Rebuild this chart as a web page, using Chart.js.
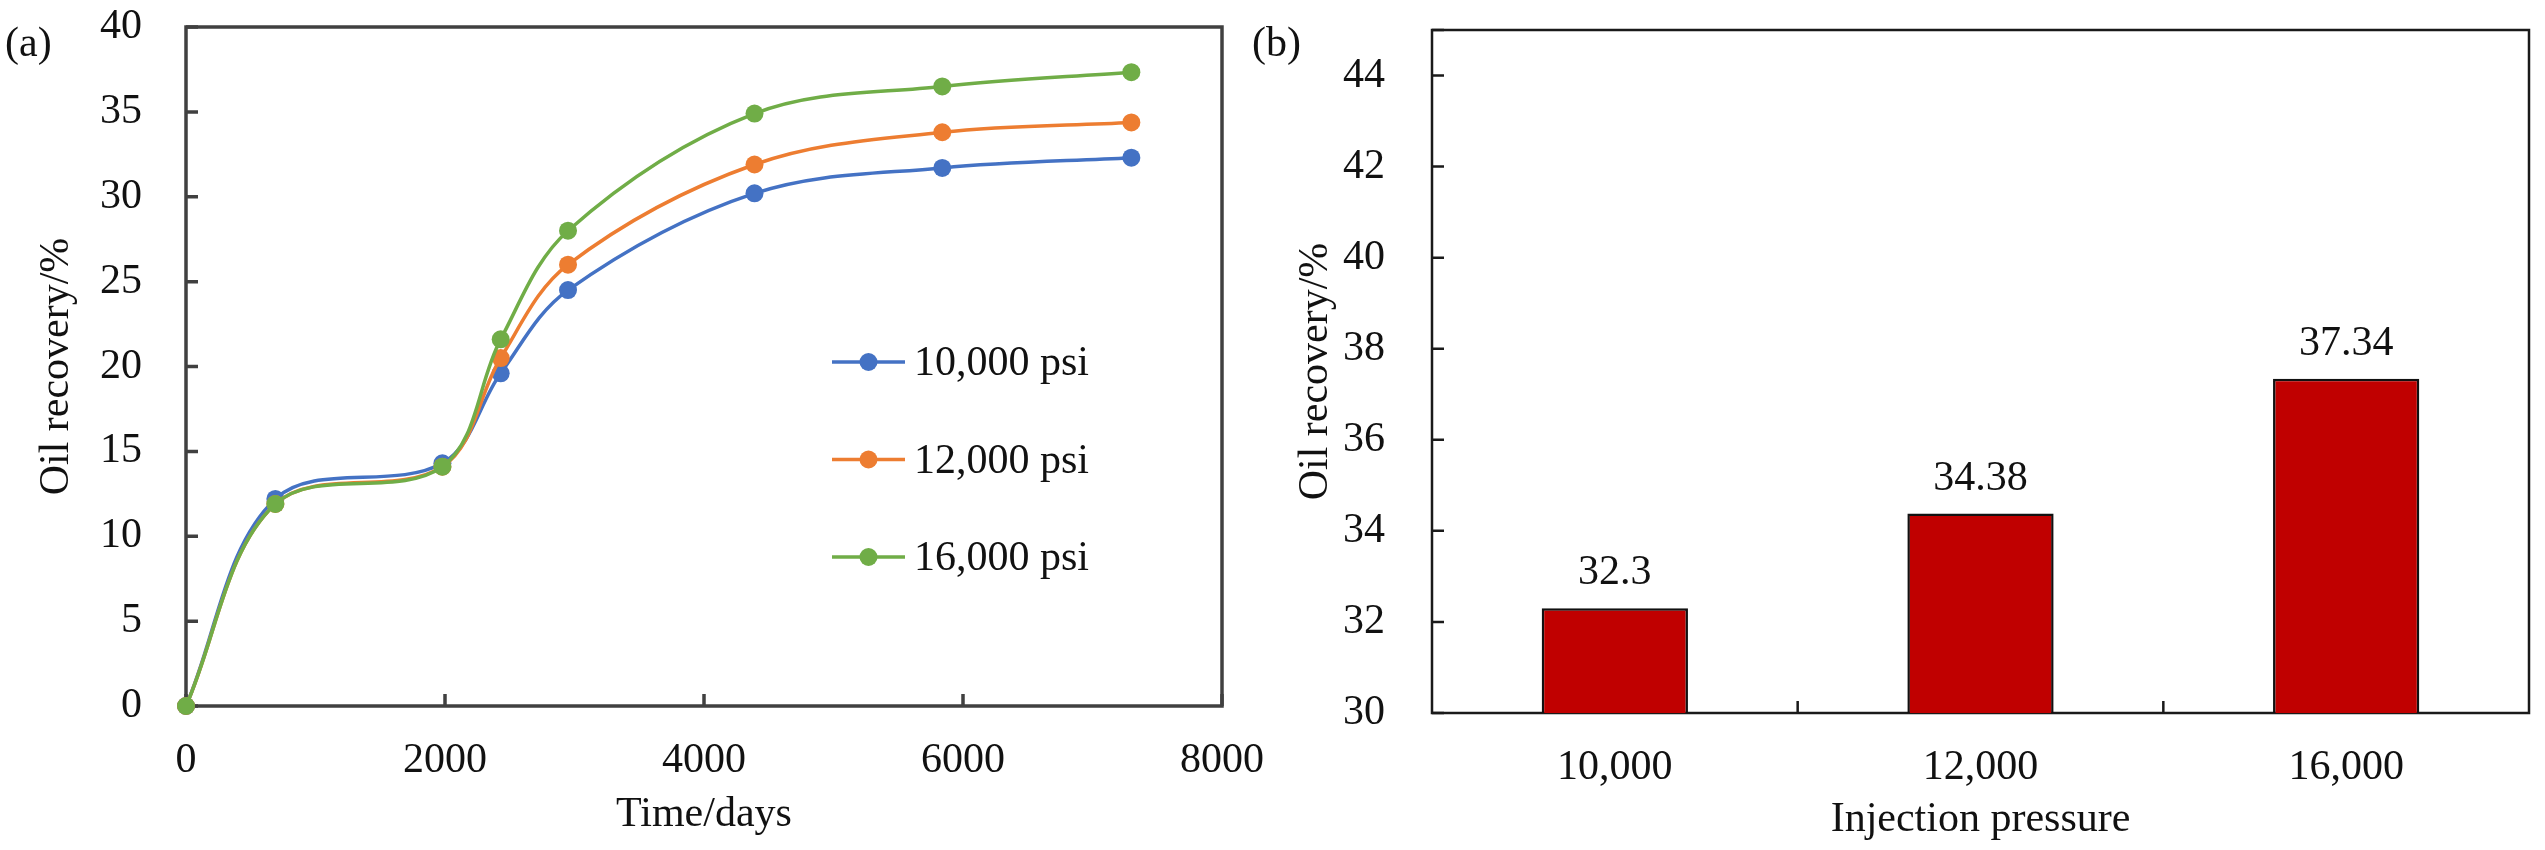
<!DOCTYPE html>
<html><head><meta charset="utf-8">
<script src="https://cdn.jsdelivr.net/npm/chart.js@4.4.1/dist/chart.umd.min.js"></script>
<style>
html,body{margin:0;padding:0;background:#fff;}
body{width:2545px;height:850px;position:relative;overflow:hidden;}
.box{position:absolute;top:0;height:850px;}
.panel{position:absolute;font-family:"Liberation Serif",serif;font-size:42px;line-height:42px;color:#111;}
</style></head><body>
<div class="box" style="left:1250px;width:1295px"><canvas id="c2"></canvas></div>
<div class="box" style="left:0;width:1300px"><canvas id="c1"></canvas></div>
<div class="panel" style="left:5px;top:21px">(a)</div>
<div class="panel" style="left:1252px;top:21px">(b)</div>
<script>
// ---- data ----
const timeDays = [0, 690, 1980, 2430, 2950, 4390, 5840, 7300];
const rec10000 = [0, 12.2, 14.3, 19.6, 24.5, 30.2, 31.7, 32.3];
const rec12000 = [0, 11.9, 14.1, 20.5, 26.0, 31.9, 33.8, 34.38];
const rec16000 = [0, 11.9, 14.1, 21.6, 28.0, 34.9, 36.5, 37.34];
const seriesLabels = ['10,000 psi', '12,000 psi', '16,000 psi'];
const seriesColors = ['#4472C4', '#ED7D31', '#70AD47'];
const pressureCats = ['10,000', '12,000', '16,000'];
const finalRecovery = [32.3, 34.38, 37.34];
const timeTicks = [0, 8000, 2000];
const recTicksA = [0, 40, 5];
const recTicksB = [30, 45, 2];

const FONT = {family: '"Liberation Serif", serif', size: 42};
const TXT = '#111';

const framePlugin = {
  id: 'frame',
  beforeDatasetsDraw(chart, args, o) {
    const {ctx, chartArea: a} = chart;
    ctx.save();
    ctx.strokeStyle = o.color;
    ctx.lineWidth = o.width;
    ctx.strokeRect(a.left, a.top, a.right - a.left, a.bottom - a.top);
    const L = o.tickLen;
    ctx.beginPath();
    const ys = chart.scales.y;
    ys.ticks.forEach((t, i) => {
      const p = ys.getPixelForTick(i);
      ctx.moveTo(a.left, p); ctx.lineTo(a.left + L, p);
    });
    const xs = chart.scales.x;
    if (xs.type === 'category') {
      for (let i = 0; i < xs.ticks.length - 1; i++) {
        const p = (xs.getPixelForTick(i) + xs.getPixelForTick(i + 1)) / 2;
        ctx.moveTo(p, a.bottom); ctx.lineTo(p, a.bottom - L);
      }
    } else {
      xs.ticks.forEach((t, i) => {
        const p = xs.getPixelForTick(i);
        ctx.moveTo(p, a.bottom); ctx.lineTo(p, a.bottom - L);
      });
    }
    ctx.stroke();
    ctx.restore();
  }
};

const ptLegendPlugin = {
  id: 'ptLegend',
  afterDraw(chart, args, o) {
    if (!o.show) return;
    const ctx = chart.ctx;
    ctx.save();
    chart.data.datasets.forEach((ds, i) => {
      const y = o.y + i * o.gap;
      ctx.strokeStyle = ds.borderColor;
      ctx.lineWidth = ds.borderWidth;
      ctx.beginPath(); ctx.moveTo(o.x, y); ctx.lineTo(o.x + o.len, y); ctx.stroke();
      ctx.fillStyle = ds.pointBackgroundColor;
      ctx.beginPath(); ctx.arc(o.x + o.len / 2, y, o.r, 0, Math.PI * 2); ctx.fill();
      ctx.fillStyle = TXT;
      ctx.font = FONT.size + 'px ' + FONT.family;
      ctx.textBaseline = 'middle';
      ctx.textAlign = 'left';
      ctx.fillText(ds.label, o.x + o.len + o.textGap, y + 2);
    });
    ctx.restore();
  }
};

const barLabelPlugin = {
  id: 'barLabels',
  afterDatasetsDraw(chart, args, o) {
    if (!o.show) return;
    const ctx = chart.ctx;
    ctx.save();
    ctx.fillStyle = TXT;
    ctx.font = FONT.size + 'px ' + FONT.family;
    ctx.textAlign = 'center';
    ctx.textBaseline = 'alphabetic';
    const meta = chart.getDatasetMeta(0);
    meta.data.forEach((bar, i) => {
      ctx.fillText(String(chart.data.datasets[0].data[i]), bar.x, bar.y - o.offset);
    });
    ctx.restore();
  }
};

Chart.register(framePlugin, ptLegendPlugin, barLabelPlugin);

function mk(i, arr, order) {
  return {
    label: seriesLabels[i],
    data: timeDays.map((t, k) => ({x: t, y: arr[k]})),
    borderColor: seriesColors[i],
    backgroundColor: seriesColors[i],
    pointBackgroundColor: seriesColors[i],
    pointBorderColor: seriesColors[i],
    pointRadius: 9,
    pointBorderWidth: 0,
    borderWidth: 3.5,
    tension: 0.35,
    clip: false,
    order: order
  };
}

new Chart(document.getElementById('c1'), {
  type: 'line',
  data: {datasets: [mk(0, rec10000, 2), mk(1, rec12000, 1), mk(2, rec16000, 0)]},
  options: {
    responsive: true, maintainAspectRatio: false, animation: false,
    layout: {padding: {left: 0, top: 27, right: 78, bottom: 0}},
    plugins: {
      legend: {display: false}, tooltip: {enabled: false},
      frame: {color: '#404040', width: 3.5, tickLen: 12},
      ptLegend: {show: true, x: 832, y: 362, gap: 97.5, len: 73, r: 9, textGap: 9},
      barLabels: {show: false}
    },
    scales: {
      x: {
        type: 'linear', min: timeTicks[0], max: timeTicks[1],
        ticks: {stepSize: timeTicks[2], font: FONT, color: TXT, padding: 22, maxRotation: 0,
                callback: v => String(v)},
        grid: {display: false}, border: {display: false},
        title: {display: true, text: 'Time/days', font: FONT, color: TXT, padding: {top: 0, bottom: 10}},
        afterFit(s) { s.height = 144; s.paddingLeft = 0; s.paddingRight = 0; }
      },
      y: {
        min: recTicksA[0], max: recTicksA[1],
        ticks: {stepSize: recTicksA[2], font: FONT, color: TXT, padding: 36},
        grid: {display: false}, border: {display: false},
        title: {display: true, text: 'Oil recovery/%', font: FONT, color: TXT, padding: {top: 32, bottom: 0}},
        afterFit(s) { s.width = 186; s.paddingTop = 0; s.paddingBottom = 0; }
      }
    }
  }
});

new Chart(document.getElementById('c2'), {
  type: 'bar',
  data: {
    labels: pressureCats,
    datasets: [{
      label: 'Oil recovery',
      data: finalRecovery,
      backgroundColor: '#C00000',
      borderColor: '#111',
      borderWidth: 2.5,
      borderSkipped: false,
      barPercentage: 0.4,
      categoryPercentage: 1
    }]
  },
  options: {
    responsive: true, maintainAspectRatio: false, animation: false,
    layout: {padding: {left: 0, top: 30, right: 16, bottom: 0}},
    plugins: {
      legend: {display: false}, tooltip: {enabled: false},
      frame: {color: '#1a1a1a', width: 2.5, tickLen: 12},
      ptLegend: {show: false},
      barLabels: {show: true, offset: 24}
    },
    scales: {
      x: {
        ticks: {font: FONT, color: TXT, padding: 22, maxRotation: 0},
        grid: {display: false}, border: {display: false},
        title: {display: true, text: 'Injection pressure', font: FONT, color: TXT, padding: {top: 0, bottom: 5}},
        afterFit(s) { s.height = 137; s.paddingLeft = 0; s.paddingRight = 0; }
      },
      y: {
        min: recTicksB[0], max: recTicksB[1], bounds: 'data',
        ticks: {stepSize: recTicksB[2], includeBounds: false, font: FONT, color: TXT, padding: 39,
                callback: v => ((v - recTicksB[0]) % recTicksB[2] === 0 ? String(v) : '')},
        grid: {display: false}, border: {display: false},
        title: {display: true, text: 'Oil recovery/%', font: FONT, color: TXT, padding: {top: 41, bottom: 0}},
        afterFit(s) { s.width = 182; s.paddingTop = 0; s.paddingBottom = 0; }
      }
    }
  }
});
</script>
</body></html>
